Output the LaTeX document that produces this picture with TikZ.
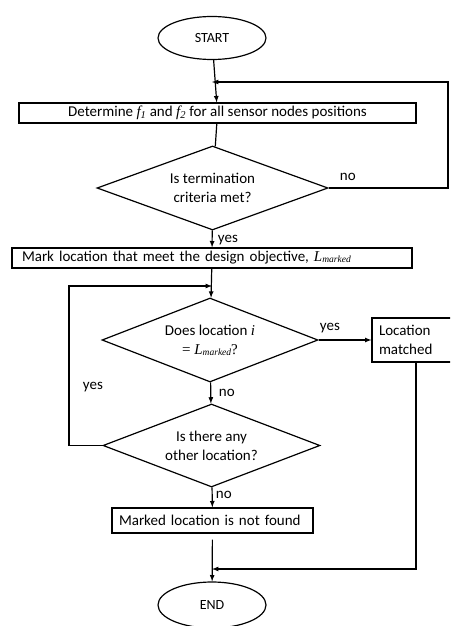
\documentclass[tikz,border=0pt]{standalone}
\usepackage{fontspec}
\setmainfont{Carlito}
\newfontfamily\tnr{Liberation Serif}
\usetikzlibrary{shapes.geometric}
\newcommand{\Lmk}{{\tnr\itshape L\raisebox{-.15ex}{\fontsize{9.5}{9.5}\selectfont marked}}}
\newcommand{\fsub}[1]{{\tnr\itshape f\textsubscript{#1}}}

\begin{document}
\begin{tikzpicture}[x=1pt,y=-1pt,>=latex,line width=1.2pt,
  font=\fontsize{15}{19}\selectfont,
  term/.style={draw,ellipse,inner sep=0pt,minimum width=108pt,minimum height=43pt,font=\fontsize{14}{16}\selectfont},
  proc/.style={draw,rectangle,inner sep=0pt,minimum height=20pt},
  dec/.style={draw,diamond,aspect=2.6,inner sep=0pt,align=center,minimum width=#1,minimum height=84pt},
  dec/.default=216pt]
\clip (0,0) rectangle (450,626);

% boxes
\node[term] (start) at (212,38) {START};
\node[proc,minimum width=397pt] (det) at (217.5,113) {Determine \fsub{1} and \fsub{2} for all sensor nodes positions};
\node[dec=231pt] (q1) at (212.5,188) {Is termination\\criteria met?};
\node[proc,text width=380pt,inner xsep=10pt,align=left] (mark) at (212,258) {Mark location that meet the design objective, \Lmk};
\node[dec] (q2) at (210,340) {Does location {\tnr\itshape i}\\{\tnr = }\Lmk{\tnr ?}};
\node[proc,text width=74pt,inner xsep=7pt,align=left,minimum height=44pt] (match) at (416,340) {Location\\matched};
\node[dec=217pt,minimum height=83pt] (q3) at (211.5,445.5) {Is there any\\other location?};
\node[proc,text width=187pt,inner xsep=7pt,align=left,minimum height=25pt] (nf) at (212.5,520.5) {Marked location is not found};
\node[term,minimum height=46pt] (end) at (212,605) {END};

\coordinate (loopR) at (448,82);
\coordinate (top1) at (212,82);
\coordinate (loopL) at (69,286);
\coordinate (top2) at (212,286);
\coordinate (top3) at (212,569);

% connectors
\draw[->] (start) -- (det);
\draw (det) -- (q1);
\draw[->] (q1.east) -| (loopR) -- (top1);
\draw[->] (q1) -- (mark);
\draw[->] (mark) -- (q2);
\draw[->] (q2) -- (match);
\draw[->] (q2) -- (q3);
\draw[->] (q3.west) -| (loopL) -- (top2);
\draw[->] (q3) -- (nf);
\draw[->,shorten <=6pt] (nf) -- (end);
\draw[->] (match.south) |- (top3);

\node at (336,177)[right]{no};
\node at (214,240)[right]{yes};
\node at (316,328)[right]{yes};
\node at (215,393)[right]{no};
\node at (79,387)[right]{yes};
\node at (212,495)[right]{no};
\end{tikzpicture}
\end{document}
